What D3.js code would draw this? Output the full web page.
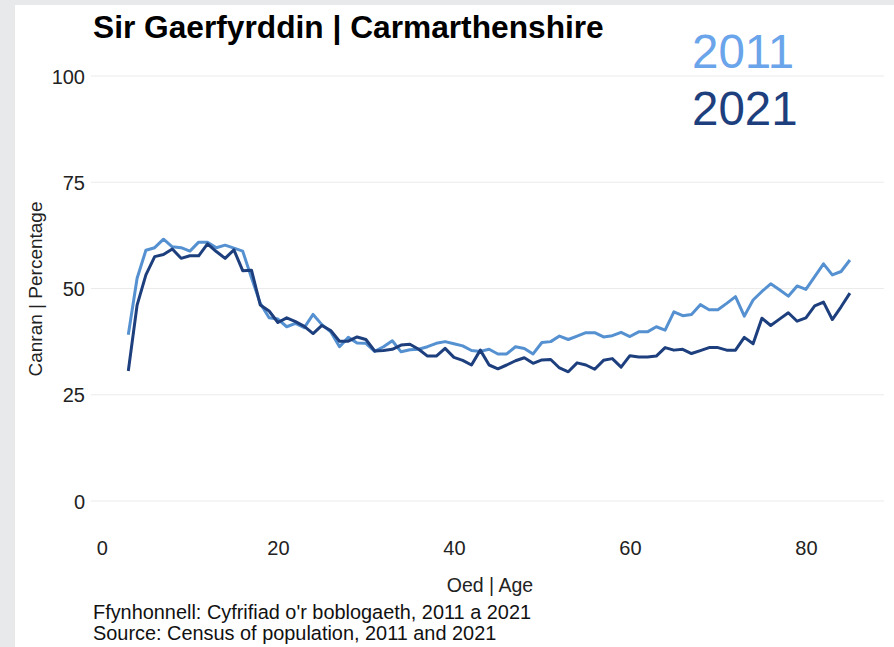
<!DOCTYPE html>
<html><head><meta charset="utf-8">
<script src="https://cdn.jsdelivr.net/npm/d3@7"></script>
<style>body{margin:0;background:#e8e9eb;}svg{display:block;font-family:"Liberation Sans",Arial,sans-serif;}</style>
</head><body>
<script>
const ages = d3.range(3, 86);
const values2011 = [39.1,52.4,59.0,59.6,61.6,59.8,59.6,58.8,60.9,60.9,59.6,60.2,59.5,58.8,52.5,46.5,43.1,42.8,41.0,41.8,40.8,43.9,41.5,39.8,36.3,38.5,37.2,37.1,35.2,36.3,37.7,35.1,35.6,35.7,36.3,37.1,37.5,37.0,36.5,35.4,35.2,35.7,34.6,34.6,36.3,35.9,34.6,37.3,37.5,38.8,38.0,38.8,39.6,39.6,38.6,38.9,39.7,38.7,39.8,39.8,41.0,40.2,44.5,43.6,43.9,46.2,45.0,45.0,46.5,48.1,43.5,47.3,49.3,51.1,49.7,48.2,50.6,49.8,52.8,55.8,53.2,54.0,56.7];
const values2021 = [30.6,46.1,53.2,57.5,58.0,59.3,57.1,57.7,57.7,60.5,58.7,57.1,59.1,54.2,54.3,46.1,44.7,42.0,43.1,42.2,41.1,39.4,41.3,40.1,37.6,37.6,38.6,38.0,35.3,35.4,35.7,36.7,36.9,35.7,34.1,34.1,35.9,33.8,33.1,32.0,35.5,32.0,31.1,32.0,33.0,33.7,32.4,33.2,33.3,31.3,30.4,32.5,32.0,31.0,33.1,33.5,31.5,34.2,33.9,33.9,34.1,36.1,35.5,35.7,34.7,35.4,36.1,36.1,35.5,35.5,38.5,37.0,43.0,41.3,42.8,44.3,42.3,43.1,45.9,46.8,42.7,45.7,48.9];
const xTicks = [0, 20, 40, 60, 80];
const yTicks = [0, 25, 50, 75, 100];
const seriesNames = ["2011", "2021"];
const lineColors = ["#5590d0", "#1d3f7e"];
const legendColors = ["#6aa4ea", "#1d3f7e"];
const titleText = "Sir Gaerfyrddin | Carmarthenshire";
const yLabel = "Canran | Percentage";
const xLabel = "Oed | Age";
const sourceLines = ["Ffynhonnell: Cyfrifiad o'r boblogaeth, 2011 a 2021", "Source: Census of population, 2011 and 2021"];

const W = 894, H = 647;
const svg = d3.select("body").append("svg").attr("width", W).attr("height", H);
svg.append("rect").attr("x", 15).attr("y", 5).attr("width", W - 15).attr("height", H - 5).attr("fill", "#fff");

const x = d3.scaleLinear().domain([0, 85]).range([101.9, 849.9]);
const y = d3.scaleLinear().domain([0, 100]).range([501, 76]);

// gridlines
svg.append("g").selectAll("line").data(yTicks).join("line")
  .attr("x1", 91).attr("x2", 884)
  .attr("y1", d => y(d)).attr("y2", d => y(d))
  .attr("stroke", "#ebebeb").attr("stroke-width", 1.2);

// y axis labels
const yAxis = d3.axisLeft(y).tickValues(yTicks).tickSize(0).tickPadding(0);
const gy = svg.append("g").attr("transform", "translate(85,0)").call(yAxis);
gy.select(".domain").remove();
gy.selectAll("text").attr("font-size", 20).attr("fill", "#222").attr("font-family", "Liberation Sans, Arial, sans-serif").attr("dy", "0.36em");

// x axis labels
const xAxis = d3.axisBottom(x).tickValues(xTicks).tickSize(0).tickPadding(0);
const gx = svg.append("g").attr("transform", "translate(0,541)").call(xAxis);
gx.select(".domain").remove();
gx.selectAll("text").attr("font-size", 20).attr("fill", "#222").attr("font-family", "Liberation Sans, Arial, sans-serif").attr("dy", "0.71em");

// lines
const line = d3.line().x((d, i) => x(ages[i])).y(d => y(d));
[values2011, values2021].forEach((vals, k) => {
  svg.append("path").datum(vals).attr("d", line)
    .attr("fill", "none").attr("stroke", lineColors[k]).attr("stroke-width", 3)
    .attr("stroke-linejoin", "round");
});

// title
svg.append("text").attr("x", 93).attr("y", 38).attr("font-size", 31.7).attr("font-weight", "bold").attr("fill", "#000").text(titleText);

// legend
seriesNames.forEach((s, k) => {
  svg.append("text").attr("x", 692).attr("y", 68 + k * 57).attr("font-size", 47.5).attr("fill", legendColors[k]).text(s);
});

// axis titles
svg.append("text").attr("transform", "translate(42,289) rotate(-90)").attr("text-anchor", "middle").attr("font-size", 19).attr("fill", "#222").text(yLabel);
svg.append("text").attr("x", 490).attr("y", 592).attr("text-anchor", "middle").attr("font-size", 19.5).attr("fill", "#222").text(xLabel);

// source
sourceLines.forEach((t, i) => {
  svg.append("text").attr("x", 93).attr("y", 619 + i * 21).attr("font-size", 19.9).attr("fill", "#111").text(t);
});
</script>
</body></html>
